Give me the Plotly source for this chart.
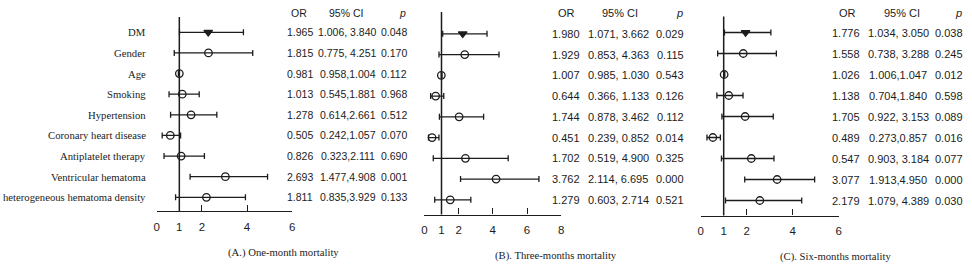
import plotly.graph_objects as go

W, H = 972, 267

# ---------------- data ----------------
factors = ["DM", "Gender", "Age", "Smoking", "Hypertension", "Coronary heart disease",
           "Antiplatelet therapy", "Ventricular hematoma", "heterogeneous hematoma density"]

# (A.) One-month mortality
or_text_a = ["1.965", "1.815", "0.981", "1.013", "1.278", "0.505", "0.826", "2.693", "1.811"]
ci_text_a = ["1.006, 3.840", "0.775, 4.251", "0.958,1.004", "0.545,1.881", "0.614,2.661",
             "0.242,1.057", "0.323,2.111", "1.477,4.908", "0.835,3.929"]
p_text_a = ["0.048", "0.170", "0.112", "0.968", "0.512", "0.070", "0.690", "0.001", "0.133"]
low_a = [1.006, 0.775, 0.958, 0.545, 0.614, 0.242, 0.323, 1.477, 0.835]
high_a = [3.840, 4.251, 1.004, 1.881, 2.661, 1.057, 2.111, 4.908, 3.929]
est_a = [2.28, 2.29, 1.00, 1.13, 1.52, 0.60, 1.08, 3.04, 2.20]   # plotted point positions

# (B). Three-months mortality
or_text_b = ["1.980", "1.929", "1.007", "0.644", "1.744", "0.451", "1.702", "3.762", "1.279"]
ci_text_b = ["1.071, 3.662", "0.853, 4.363", "0.985, 1.030", "0.366, 1.133", "0.878, 3.462",
             "0.239, 0.852", "0.519, 4.900", "2.114, 6.695", "0.603, 2.714"]
p_text_b = ["0.029", "0.115", "0.543", "0.126", "0.112", "0.014", "0.325", "0.000", "0.521"]
low_b = [1.071, 0.853, 0.985, 0.366, 0.878, 0.239, 0.519, 2.114, 0.603]
high_b = [3.662, 4.363, 1.030, 1.133, 3.462, 0.852, 4.900, 6.695, 2.714]
est_b = [2.24, 2.36, 0.99, 0.66, 2.03, 0.45, 2.40, 4.19, 1.51]

# (C). Six-months mortality
or_text_c = ["1.776", "1.558", "1.026", "1.138", "1.705", "0.489", "0.547", "3.077", "2.179"]
ci_text_c = ["1.034, 3.050", "0.738, 3.288", "1.006,1.047", "0.704,1.840", "0.922, 3.153",
             "0.273,0.857", "0.903, 3.184", "1.913,4.950", "1.079, 4.389"]
p_text_c = ["0.038", "0.245", "0.012", "0.598", "0.089", "0.016", "0.077", "0.000", "0.030"]
low_c = [1.034, 0.738, 1.006, 0.704, 0.922, 0.273, 0.903, 1.913, 1.079]
high_c = [3.050, 3.288, 1.047, 1.840, 3.153, 0.857, 3.184, 4.950, 4.389]
est_c = [1.95, 1.85, 1.02, 1.22, 1.93, 0.53, 2.20, 3.32, 2.57]

ticks_a = [0, 1, 2, 4, 6]
ticks_b = [0, 1, 2, 4, 6, 8]
ticks_c = [0, 1, 2, 4, 6]

captions = ["(A.) One-month mortality", "(B). Three-months mortality", "(C). Six-months mortality"]
headers = ["OR", "95% CI", "<i>p</i>"]

# ---------------- styling / layout ----------------
INK = "#1c1c1c"
SERIF = "Liberation Serif, Times New Roman, serif"
SANS = "Liberation Sans, Arial, sans-serif"

panels = [
    dict(est=est_a, low=low_a, high=high_a, ort=or_text_a, cit=ci_text_a, pt=p_text_a, ticks=ticks_a,
         xpx=(154.7, 291.0), xr=(0, 6), axis_px=211.0, top_px=17.0, row0=32.3, gap=20.63,
         col_or=299, col_ci=347, p_right=409, hdr_or=298, hdr_ci=345, cap=(282, 252), fs=10.5),
    dict(est=est_b, low=low_b, high=high_b, ort=or_text_b, cit=ci_text_b, pt=p_text_b, ticks=ticks_b,
         xpx=(424.0, 561.7), xr=(0, 8), axis_px=214.5, top_px=12.0, row0=33.8, gap=20.75,
         col_or=566, col_ci=619, p_right=687, hdr_or=567, hdr_ci=621, cap=(556, 255), fs=11),
    dict(est=est_c, low=low_c, high=high_c, ort=or_text_c, cit=ci_text_c, pt=p_text_c, ticks=ticks_c,
         xpx=(702.0, 841.0), xr=(0, 6), axis_px=215.5, top_px=16.5, row0=32.5, gap=21.0,
         col_or=848, col_ci=901, p_right=968, hdr_or=850, hdr_ci=905, cap=(838, 256), fs=11),
]

fig = go.Figure()
annotations = []
shapes = []
layout_axes = {}

rows = list(range(len(factors)))

for i, P in enumerate(panels):
    n = "" if i == 0 else str(i + 1)
    xa, ya = "x" + n, "y" + n
    symbols = ["triangle-down" if k == 0 else "circle-open" for k in rows]
    fig.add_trace(go.Scatter(
        x=P["est"], y=rows, xaxis=xa, yaxis=ya, mode="markers",
        marker=dict(symbol=symbols, size=7.5, color=INK,
                    line=dict(color=INK, width=1.3)),
        error_x=dict(type="data", symmetric=False,
                     array=[h - e for h, e in zip(P["high"], P["est"])],
                     arrayminus=[e - l for e, l in zip(P["est"], P["low"])],
                     color=INK, thickness=1.3, width=3),
        showlegend=False, hoverinfo="skip"))

    bottom_k = (P["axis_px"] - P["row0"]) / P["gap"]
    top_k = (P["top_px"] - P["row0"]) / P["gap"]
    layout_axes["xaxis" + n] = dict(
        domain=[P["xpx"][0] / W, P["xpx"][1] / W], range=list(P["xr"]), anchor=ya,
        tickvals=P["ticks"], ticktext=[str(t) for t in P["ticks"]],
        ticks="inside", ticklen=6, tickwidth=1.3, tickcolor=INK,
        showline=True, linecolor=INK, linewidth=1.3, showgrid=False, zeroline=False,
        tickfont=dict(family=SANS, size=11.5, color=INK), ticklabelstandoff=5, fixedrange=True)
    layout_axes["yaxis" + n] = dict(
        domain=[1 - P["axis_px"] / H, 1 - P["top_px"] / H], range=[bottom_k, top_k], anchor=xa,
        showline=False, showgrid=False, zeroline=False, showticklabels=False, ticks="", fixedrange=True)

    # reference line at OR = 1
    shapes.append(dict(type="line", xref=xa, yref=ya + " domain", x0=1, x1=1, y0=0, y1=1,
                       line=dict(color=INK, width=1.5)))

    # table
    for k in rows:
        for txt, xc, anchor in ((P["ort"][k], P["col_or"], "center"),
                                (P["cit"][k], P["col_ci"], "center"),
                                (P["pt"][k], P["p_right"], "right")):
            annotations.append(dict(text=txt, x=xc / W, xref="paper", y=k, yref=ya,
                                    xanchor=anchor, yanchor="middle", showarrow=False,
                                    font=dict(family=SANS, size=P["fs"], color=INK)))
    hdr_y = 1 - 12.5 / H
    for txt, xc, anchor in ((headers[0], P["hdr_or"], "center"),
                            (headers[1], P["hdr_ci"], "center"),
                            (headers[2], P["p_right"] - 1, "right")):
        annotations.append(dict(text=txt, x=xc / W, xref="paper", y=hdr_y, yref="paper",
                                xanchor=anchor, yanchor="middle", showarrow=False,
                                font=dict(family=SANS, size=P["fs"], color=INK)))
    # caption
    annotations.append(dict(text=captions[i], x=P["cap"][0] / W, xref="paper",
                            y=1 - P["cap"][1] / H, yref="paper", xanchor="center", yanchor="middle",
                            showarrow=False, font=dict(family=SERIF, size=10.7, color=INK)))

# factor labels (left of panel A)
for k in rows:
    annotations.append(dict(text=factors[k], x=146 / W, xref="paper", y=k, yref="y",
                            xanchor="right", yanchor="middle", showarrow=False,
                            font=dict(family=SERIF, size=10.7, color=INK)))

fig.update_layout(
    width=W, height=H, margin=dict(l=0, r=0, t=0, b=0),
    paper_bgcolor="white", plot_bgcolor="white",
    annotations=annotations, shapes=shapes, **layout_axes)

fig.write_html("out.html", config={"displayModeBar": False},
               post_script="document.body.style.margin='0px';document.body.style.overflow='hidden';")
